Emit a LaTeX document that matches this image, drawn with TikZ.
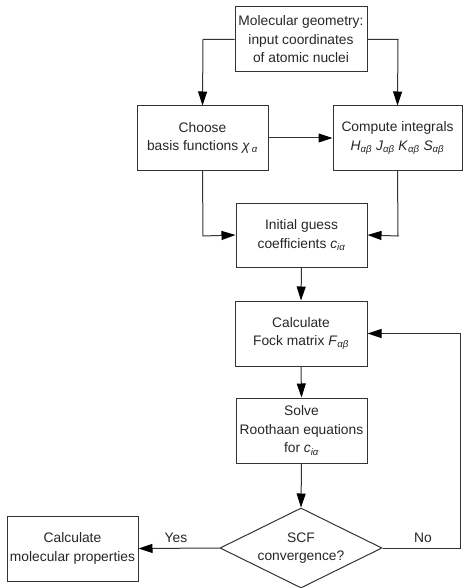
\documentclass[tikz,border=0pt]{standalone}
\usepackage{fontspec}
\setmainfont{Liberation Sans}
\usetikzlibrary{shapes.geometric,arrows.meta}
\newcommand{\ssub}[1]{\textsubscript{\itshape #1}}
\begin{document}
\begin{tikzpicture}[x=1pt,y=-1pt,
  font=\fontsize{13.8}{18.5}\selectfont,
  box/.style={draw=black!80, line width=1pt, rectangle, align=center, inner sep=0pt, text=black!85},
  arr/.style={draw=black!80, line width=1pt, -{Triangle[length=14pt,width=9pt,fill=black,color=black]}},
  ln/.style={draw=black!80, line width=1pt}]
\useasboundingbox (0,0) rectangle (463,588);
\node[box, minimum width=132pt, minimum height=65pt] (geo) at (301,39.5) {Molecular geometry:\\input coordinates\\of atomic nuclei};
\node[box, minimum width=131pt, minimum height=64pt] (choose) at (202.5,138) {Choose\\basis functions \textit{χ\,\ssub{α}}};
\node[box, minimum width=129pt, minimum height=64pt] (comp) at (397.5,138) {Compute integrals\\\textit{H}\ssub{αβ} \textit{J}\ssub{αβ} \textit{K}\ssub{αβ} \textit{S}\ssub{αβ}};
\node[box, minimum width=131pt, minimum height=64pt] (init) at (301.5,235) {Initial guess\\coefficients \textit{c}\ssub{iα}};
\node[box, minimum width=132pt, minimum height=65pt] (fock) at (301,333.5) {Calculate\\Fock matrix \textit{F}\ssub{αβ}};
\node[box, minimum width=131pt, minimum height=65pt] (solve) at (301.5,430.5) {Solve\\Roothaan equations\\for \textit{c}\ssub{iα}};
\node[box, diamond, minimum width=162pt, minimum height=80pt, aspect=2.02] (conv) at (301,548) {SCF\\convergence?};
\node[box, minimum width=131pt, minimum height=65pt] (props) at (72.5,548.5) {Calculate\\molecular properties};
\coordinate (c1) at (203,39.5);
\coordinate (c2) at (398,39.5);
\coordinate (c3) at (203,236);
\coordinate (c4) at (398,236);
\coordinate (c5) at (460,548);
\coordinate (c6) at (460,333.5);
\draw[arr] (geo.west) -- (c1) -- (choose.north);
\draw[arr] (geo.east) -- (c2) -- (comp.north);
\draw[arr] (choose.east) -- (comp.west);
\draw[arr] (choose.south) -- (c3) -- (init.west);
\draw[arr] (comp.south) -- (c4) -- (init.east);
\draw[arr] (init.south) -- (fock.north);
\draw[arr] (fock.south) -- (solve.north);
\draw[arr] (solve.south) -- (conv.north);
\draw[arr] (conv.west) -- (props.east);
\draw[arr] (conv.east) -- (c5) -- (c6) -- (fock.east);
\node[text=black!85] (yes) at (176,538) {Yes};
\node[text=black!85] (no) at (423,538) {No};
\end{tikzpicture}
\end{document}
